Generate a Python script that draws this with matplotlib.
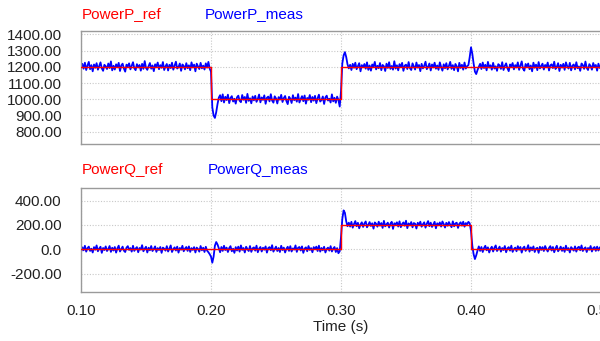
import numpy as np
import matplotlib
matplotlib.use("Agg")
import matplotlib.pyplot as plt

plt.rcParams['font.family'] = ['Liberation Sans', 'DejaVu Sans']

# reference set points (step changes)
p_ref_t = [0.1, 0.2, 0.3, 0.5]
p_ref_v = [1200, 1000, 1200, 1200]
q_ref_t = [0.1, 0.3, 0.4, 0.5]
q_ref_v = [0, 200, 0, 0]

# measured signals: level of each 0.1 s segment + sample deviations (1 ms samples)
p_levels = [1200, 1000, 1200, 1200]
q_levels = [0, 0, 200, 0]

p_dev1 = [-5, 18, -12, 25, -20, 8, 30, -15, 10, -28, 14, -6, 22, -18, 5, 27, -10, -25, 12, 3,
          -14, 20, -8, 33, -22, 6, -17, 15, -3, 24, -26, 9, 19, -11, -30, 13, 2, 21, -16, 7,
          28, -9, -21, 16, -4, 11, -24, 18, -13, 35, -7, -19, 4, 23, -12, 8, -27, 15, 1, 26,
          -15, 10, -6, 29, -20, 3, 17, -23, 12, -8, 25, -18, 6, 31, -11, -2, 20, -25, 14, 5,
          -16, 22, -9, 9, -21, 27, -4, 13, -28, 19, 2, -14, 24, -10, 7, -17, 21, -5, 30, -12]
p_dev2 = [170, -50, -100, -115, -80, -30, 10, 25, -12, 30, -20, 15, -5, 28, -24, 8, 19, -14, 3, -27,
          12, 22, -9, -18, 26, -3, 14, -22, 33, -10, 6, -25, 17, -7, 21, -16, 2, 29, -19, 11,
          -4, 24, -28, 9, 16, -13, 31, -8, -21, 18, 5, -26, 13, -2, 27, -17, 7, 20, -11, -30,
          15, 4, -23, 25, -6, 10, -15, 32, -20, 1, 19, -12, 23, -27, 8, -3, 26, -18, 14, -9,
          21, -24, 6, 28, -14, -5, 17, -29, 11, 22, -8, 3, -20, 30, -13, 9, -22, 16, -4, -45]
p_dev3 = [-150, 20, 70, 90, 60, 15, -10, 12, -20, 18, -6, 25, -15, 4, 22, -28, 10, -3, 17, -12,
          27, -19, 8, -24, 14, 1, 30, -16, 6, -9, 23, -21, 11, 3, -26, 19, -7, 28, -13, 5,
          -18, 34, -11, 9, -22, 16, -2, 24, -25, 7, 13, -14, 29, -8, -20, 21, 2, -17, 26, -5,
          11, -27, 18, -10, 6, 31, -15, 0, 20, -23, 14, -4, 25, -12, 8, -19, 27, -1, -24, 15,
          -9, 22, -16, 5, 30, -13, 10, -21, 17, 3, -28, 24, -7, 12, -18, 26, -11, 4, 10, 60]
p_dev4 = [120, 80, 20, -30, -45, -20, 0, 18, -14, 26, -8, 12, -22, 30, -5, 9, -18, 24, -11, 3,
          -25, 16, 7, -13, 28, -20, 5, 21, -9, -27, 14, 2, 23, -16, 10, -4, 27, -19, 6, 33,
          -12, -24, 17, 1, 20, -15, 8, -28, 25, -6, 13, -21, 29, -10, 4, 19, -17, 11, -3, 26,
          -23, 9, 15, -8, 31, -14, 0, 22, -26, 12, -5, 18, -19, 27, 3, -11, 24, -22, 7, 14,
          -16, 28, -9, 2, -25, 20, 10, -13, 32, -7, -20, 16, 5, -18, 23, -2, 11, -24, 19, -6]

q_dev1 = [-24, 16, -8, 29, -19, 10, 22, -13, 5, -26, 18, -3, 32, -16, 6, 21, -29, 11, -6, 24,
          -14, 3, 27, -21, 13, -10, 19, -27, 8, 30, -18, 2, 22, -11, -22, 14, 26, -5, 10, -19,
          29, -13, 6, 18, -24, 11, -2, 34, -16, 5, 21, -26, 13, -8, 27, -14, 3, 24, -21, 10,
          -6, 19, -29, 14, 5, -11, 26, -18, 8, 32, -22, 2, 16, -10, 22, -27, 11, -3, 29, -16,
          6, 19, -13, 24, -21, 10, -5, 18, -26, 14, 3, -19, 27, -8, 13, -22, 21, -11, -24, -40]
q_dev2 = [-60, -110, -60, 30, 60, 40, 10, -24, 19, -13, 29, -6, 14, -22, 10, 26, -16, 5, -29, 18,
          -10, 22, -19, 32, -5, 11, -26, 21, 2, -14, 27, -21, 8, 16, -11, 30, -24, 6, 19, -18,
          13, -3, 24, -27, 10, 18, -8, 34, -19, 3, 22, -14, 11, -22, 29, -6, 14, -26, 5, 21,
          -13, 26, -18, 8, -2, 32, -21, 13, 19, -10, 24, -29, 6, 16, -16, 27, -5, 10, -24, 18,
          2, 22, -14, 30, -19, 11, -8, 21, -26, 3, 14, -11, 26, -18, 6, 19, -22, 10, -32, -16]
q_dev3 = [-100, 50, 120, 100, 30, -10, 19, -13, 26, -22, 8, 32, -10, 18, -27, 5, 22, -16, 13, 29,
          -19, 3, 24, -8, 14, -30, 21, 10, -14, 27, -5, 16, -24, 34, -11, 6, 19, -21, 11, 26,
          -32, 14, 5, 22, -13, 30, -18, 8, 21, -6, 35, -26, 13, -3, 24, -19, 16, 10, -29, 18,
          2, 27, -14, 6, 22, -22, 11, 32, -10, 19, -16, 5, 26, -27, 14, -2, 21, -13, 29, 8,
          -21, 18, -6, 24, 3, -18, 30, -11, 13, 19, -24, 10, 22, -5, 27, -14, 16, 6, 26, 13]
q_dev4 = [150, 30, -40, -80, -50, -10, 24, -13, 19, -22, 10, 29, -8, 16, -26, 5, 21, -18, 13, 32,
          -14, 3, 22, -19, 11, -6, 27, -24, 8, 18, -11, 30, -21, 2, 14, -16, 26, -3, 19, -27,
          10, 22, -13, 5, 34, -19, 16, -8, 24, -22, 6, 13, -29, 21, -5, 18, -14, 27, 3, -18,
          11, 26, -10, 19, -24, 8, 29, -16, 2, 22, -13, 14, -21, 30, -6, 10, -26, 18, 5, -11,
          24, -19, 13, 21, -8, 32, -14, 6, 16, -22, 11, -3, 27, -18, 10, 19, -13, 22, -10, 14]

p_ticks = [800, 900, 1000, 1100, 1200, 1300, 1400]
p_ticklabels = ['800.00', '900.00', '1000.00', '1100.00', '1200.00', '1300.00', '1400.00']
q_ticks = [-200, 0, 200, 400]
q_ticklabels = ['-200.00', '0.0', '200.00', '400.00']
x_ticks = [0.1, 0.2, 0.3, 0.4, 0.5]
x_ticklabels = ['0.10', '0.20', '0.30', '0.40', '0.50']

dt = 0.001
p_meas = np.concatenate([lv + np.array(d) for lv, d in zip(p_levels, [p_dev1, p_dev2, p_dev3, p_dev4])])
q_meas = np.concatenate([lv + np.array(d) for lv, d in zip(q_levels, [q_dev1, q_dev2, q_dev3, q_dev4])])
t = 0.1 + dt * np.arange(len(p_meas))

fig = plt.figure(figsize=(6, 3.41), dpi=100)
ax1 = fig.add_axes([0.135, 0.578, 0.8667, 0.331])
ax2 = fig.add_axes([0.135, 0.144, 0.8667, 0.305])

blue = '#0000ff'
red = '#ff0000'
for ax, meas, rt, rv, yt, ytl, ylim in [
        (ax1, p_meas, p_ref_t, p_ref_v, p_ticks, p_ticklabels, (725, 1420)),
        (ax2, q_meas, q_ref_t, q_ref_v, q_ticks, q_ticklabels, (-350, 505))]:
    ax.plot(t, meas, color=blue, lw=1.3, zorder=2)
    ax.step(rt, rv, where='post', color=red, lw=1.0, zorder=3)
    ax.set_xlim(0.1, 0.5)
    ax.set_ylim(*ylim)
    ax.set_yticks(yt)
    ax.set_yticklabels(ytl)
    ax.set_xticks(x_ticks)
    ax.grid(True, color='#c8c8c8', linestyle=(0, (1, 1.5)), lw=0.8)
    ax.tick_params(length=0, labelsize=11, colors='#222222', pad=14)
    for s in ax.spines.values():
        s.set_color('#9a9a9a')
        s.set_linewidth(1.0)

ax1.set_xticklabels([])
ax2.set_xticklabels(x_ticklabels)
ax2.tick_params(axis='x', pad=9)
ax2.set_xlabel('Time (s)', fontsize=11, color='#222222', labelpad=1)

fig.text(0.137, 0.959, 'PowerP_ref', color=red, fontsize=11, va='center')
fig.text(0.342, 0.959, 'PowerP_meas', color=blue, fontsize=11, va='center')
fig.text(0.137, 0.501, 'PowerQ_ref', color=red, fontsize=11, va='center')
fig.text(0.347, 0.501, 'PowerQ_meas', color=blue, fontsize=11, va='center')

fig.savefig('out.png', dpi=100)
